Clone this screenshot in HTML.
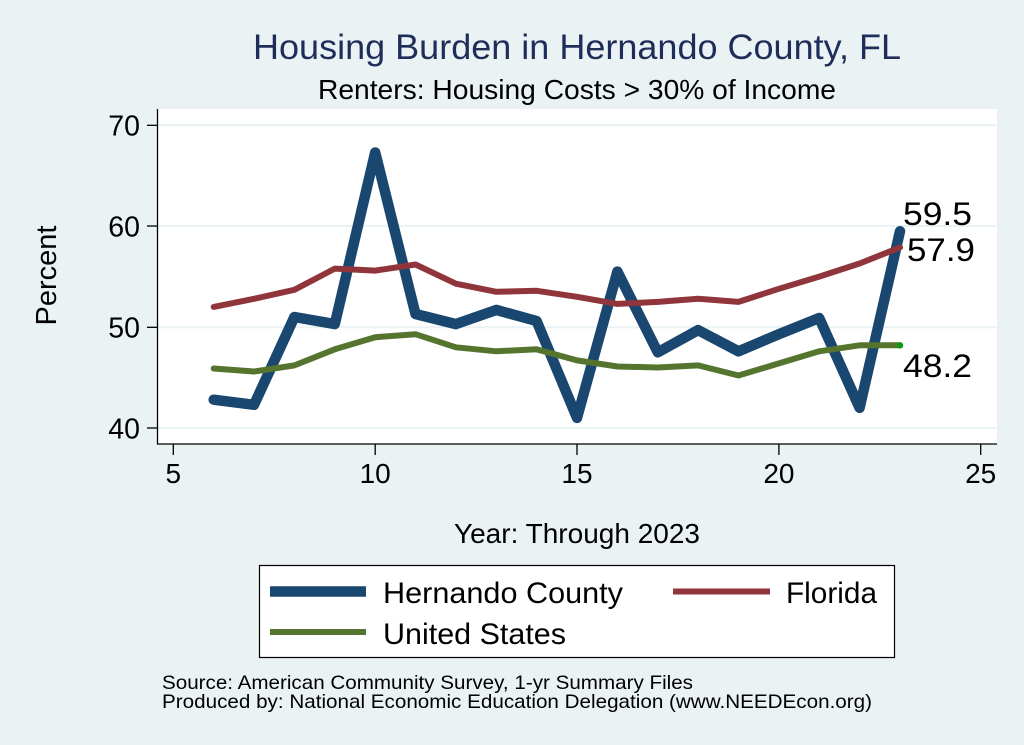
<!DOCTYPE html>
<html>
<head>
<meta charset="utf-8">
<style>
  html, body { margin:0; padding:0; background:#eaf2f3; }
  svg { display:block; }
  text { font-family: "Liberation Sans", Arial, Helvetica, sans-serif; }
</style>
</head>
<body>
<svg width="1024" height="745" viewBox="0 0 1024 745" xmlns="http://www.w3.org/2000/svg">
  <rect x="0" y="0" width="1024" height="745" fill="#eaf2f3"/>

  <!-- Titles -->
  <text x="253" y="59" font-size="35.5" fill="#1e2d5a" textLength="648" lengthAdjust="spacingAndGlyphs">Housing Burden in Hernando County, FL</text>
  <text x="318" y="99" font-size="27.5" fill="#000" textLength="518" lengthAdjust="spacingAndGlyphs">Renters: Housing Costs &gt; 30% of Income</text>

  <!-- Plot region -->
  <rect x="157" y="109" width="840" height="335" fill="#ffffff"/>

  <!-- Gridlines -->
  <g stroke="#eaf2f3" stroke-width="2">
    <line x1="158" y1="125.3" x2="997" y2="125.3"/>
    <line x1="158" y1="226" x2="997" y2="226"/>
    <line x1="158" y1="327.3" x2="997" y2="327.3"/>
    <line x1="158" y1="428" x2="997" y2="428"/>
  </g>

  <!-- Axes -->
  <g stroke="#000" stroke-width="1.3" fill="none">
    <line x1="157.5" y1="109" x2="157.5" y2="444.5"/>
    <line x1="157" y1="444" x2="997" y2="444"/>
    <!-- y ticks -->
    <line x1="147" y1="125.3" x2="157.5" y2="125.3"/>
    <line x1="147" y1="226" x2="157.5" y2="226"/>
    <line x1="147" y1="327.3" x2="157.5" y2="327.3"/>
    <line x1="147" y1="428" x2="157.5" y2="428"/>
    <!-- x ticks -->
    <line x1="173.3" y1="444" x2="173.3" y2="455"/>
    <line x1="375.2" y1="444" x2="375.2" y2="455"/>
    <line x1="577" y1="444" x2="577" y2="455"/>
    <line x1="778.9" y1="444" x2="778.9" y2="455"/>
    <line x1="980.7" y1="444" x2="980.7" y2="455"/>
  </g>

  <!-- Y tick labels -->
  <g font-size="28.5" fill="#000" text-anchor="end">
    <text x="140" y="135.5">70</text>
    <text x="140" y="236.5">60</text>
    <text x="140" y="337.5">50</text>
    <text x="140" y="438.5">40</text>
  </g>

  <!-- X tick labels -->
  <g font-size="28" fill="#000" text-anchor="middle">
    <text x="173.3" y="483">5</text>
    <text x="375.2" y="483">10</text>
    <text x="577" y="483">15</text>
    <text x="778.9" y="483">20</text>
    <text x="980.7" y="483">25</text>
  </g>

  <!-- Axis titles -->
  <text x="454" y="543" font-size="27.5" fill="#000" textLength="246" lengthAdjust="spacingAndGlyphs">Year: Through 2023</text>
  <text transform="translate(56,275.5) rotate(-90)" x="0" y="0" font-size="29" fill="#000" text-anchor="middle">Percent</text>

  <!-- Series -->
  <g fill="none" stroke-linejoin="round" stroke-linecap="round">
    <polyline stroke="#1a476f" stroke-width="10.5" points="213.7,399.7 254.0,404.8 294.4,317.0 334.8,324.1 375.2,152.5 415.5,314.0 455.9,324.1 496.3,309.9 536.6,321.0 577.0,417.9 617.4,271.6 657.8,352.3 698.1,330.1 738.5,351.3 778.9,334.2 819.2,318.0 859.6,407.8 900.0,231.2"/>
    <polyline stroke="#90353b" stroke-width="6" points="213.7,306.9 254.0,298.8 294.4,289.8 334.8,268.6 375.2,270.6 415.5,264.5 455.9,283.7 496.3,291.8 536.6,290.8 577.0,296.8 617.4,303.9 657.8,301.9 698.1,298.8 738.5,301.9 778.9,288.8 819.2,276.6 859.6,263.5 900.0,247.4"/>
    <polyline stroke="#55752f" stroke-width="6" points="213.7,368.5 254.0,371.5 294.4,365.4 334.8,349.3 375.2,337.2 415.5,334.2 455.9,347.3 496.3,351.3 536.6,349.3 577.0,360.4 617.4,366.5 657.8,367.5 698.1,365.4 738.5,375.5 778.9,363.4 819.2,351.3 859.6,345.3 900.0,345.3"/>
  </g>
  <circle cx="900" cy="345.3" r="3.2" fill="#0a9a0a"/>

  <!-- End labels -->
  <g font-size="32.5" fill="#000">
    <text x="903" y="225" textLength="69" lengthAdjust="spacingAndGlyphs">59.5</text>
    <text x="907" y="261" textLength="68" lengthAdjust="spacingAndGlyphs">57.9</text>
    <text x="903" y="377" textLength="69" lengthAdjust="spacingAndGlyphs">48.2</text>
  </g>

  <!-- Legend -->
  <rect x="259.5" y="565.5" width="635" height="92" fill="#ffffff" stroke="#000" stroke-width="1.2"/>
  <line x1="270" y1="591.5" x2="366" y2="591.5" stroke="#1a476f" stroke-width="10.5"/>
  <line x1="673" y1="591.5" x2="770" y2="591.5" stroke="#90353b" stroke-width="6"/>
  <line x1="270" y1="632" x2="366" y2="632" stroke="#55752f" stroke-width="6"/>
  <g font-size="30" fill="#000">
    <text x="383" y="603" textLength="240" lengthAdjust="spacingAndGlyphs">Hernando County</text>
    <text x="786" y="603" textLength="91" lengthAdjust="spacingAndGlyphs">Florida</text>
    <text x="383" y="644" textLength="183" lengthAdjust="spacingAndGlyphs">United States</text>
  </g>

  <!-- Footer -->
  <g font-size="19.5" fill="#000">
    <text x="162" y="689" textLength="531" lengthAdjust="spacingAndGlyphs">Source: American Community Survey, 1-yr Summary Files</text>
    <text x="162" y="708" textLength="710" lengthAdjust="spacingAndGlyphs">Produced by: National Economic Education Delegation (www.NEEDEcon.org)</text>
  </g>
</svg>
</body>
</html>
